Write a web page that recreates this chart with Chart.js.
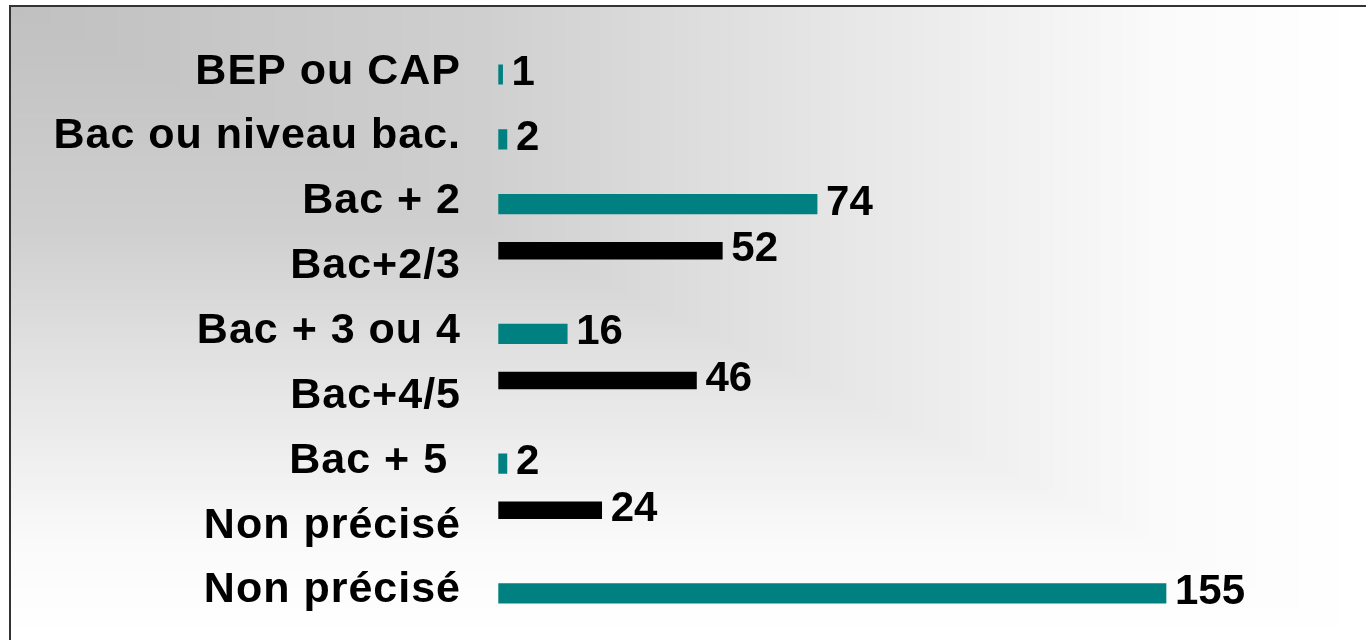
<!DOCTYPE html>
<html>
<head>
<meta charset="utf-8">
<script src="https://cdn.jsdelivr.net/npm/chart.js@4.4.1/dist/chart.umd.min.js"></script>
<style>
    html, body { margin: 0; padding: 0; background: #ffffff; }
    #wrap { width: 1366px; height: 640px; position: relative; }
</style>
</head>
<body>
<div id="wrap"><canvas id="levels-chart"></canvas></div>
<script>
const categories = ['BEP ou CAP', 'Bac ou niveau bac.', 'Bac + 2', 'Bac+2/3', 'Bac + 3 ou 4', 'Bac+4/5', 'Bac + 5 ', 'Non précisé', 'Non précisé'];
const blackValues = [null, null, null, 52, null, 46, null, 24, null];
const tealValues = [1, 2, 74, null, 16, null, 2, null, 155];

const FONT = '"Liberation Sans", Arial, sans-serif';

// grey in the top-left corner fading to white, in rectangular bands like the slide
const shade = (t) => {
    const stops = [[0, 192], [0.35, 207], [0.6, 229], [0.85, 250], [1, 255]];
    for (let i = 1; i < stops.length; i++) {
        if (t <= stops[i][0]) {
            const [t0, v0] = stops[i - 1];
            const [t1, v1] = stops[i];
            const v = Math.round(v0 + (v1 - v0) * (t - t0) / (t1 - t0));
            return `rgb(${v},${v},${v})`;
        }
    }
    return '#ffffff';
};

const backgroundPlugin = {
    id: 'slideBackground',
    beforeDraw: (chart) => {
        const ctx = chart.ctx;
        const ox = 9, oy = 5;
        const w = chart.width - ox, h = chart.height - oy;
        ctx.save();
        ctx.fillStyle = '#ffffff';
        ctx.fillRect(0, 0, chart.width, chart.height);
        const steps = 200;
        for (let k = steps; k >= 1; k--) {
            const t = k / steps;
            ctx.fillStyle = shade(t);
            ctx.fillRect(ox, oy, w * t, h * t);
        }
        ctx.strokeStyle = '#333333';
        ctx.lineWidth = 2;
        ctx.beginPath();
        ctx.moveTo(ox + 1, chart.height);
        ctx.lineTo(ox + 1, oy + 1);
        ctx.lineTo(chart.width, oy + 1);
        ctx.stroke();
        ctx.restore();
        // category labels are drawn slightly spaced out
        ctx.letterSpacing = '1px';
    },
    beforeDatasetsDraw: (chart) => {
        chart.ctx.letterSpacing = '0px';
    }
};

const valueLabelPlugin = {
    id: 'valueLabels',
    afterDatasetsDraw: (chart) => {
        const ctx = chart.ctx;
        ctx.save();
        ctx.letterSpacing = '0px';
        ctx.font = `bold 42px ${FONT}`;
        ctx.fillStyle = '#000000';
        ctx.textAlign = 'left';
        ctx.textBaseline = 'middle';
        chart.data.datasets.forEach((ds, di) => {
            const meta = chart.getDatasetMeta(di);
            meta.data.forEach((bar, i) => {
                const v = ds.data[i];
                if (v === null || v === undefined) return;
                ctx.fillText(String(v), bar.x + 9, bar.y - 1);
            });
        });
        ctx.restore();
    }
};

const ctx = document.getElementById('levels-chart').getContext('2d');
const levelsChart = new Chart(ctx, {
    type: 'bar',
    data: {
        labels: categories,
        datasets: [
            {
                label: 'black',
                data: blackValues,
                backgroundColor: '#000000',
                barThickness: 17
            },
            {
                label: 'teal',
                data: tealValues,
                backgroundColor: '#008080',
                barThickness: 19.5
            }
        ]
    },
    options: {
        indexAxis: 'y',
        responsive: true,
        maintainAspectRatio: false,
        animation: false,
        devicePixelRatio: 1,
        layout: { padding: { top: 32.3, bottom: 24, left: 0, right: 92.3 } },
        plugins: {
            legend: { display: false },
            tooltip: { enabled: false }
        },
        scales: {
            x: {
                display: false,
                min: 0,
                max: 180
            },
            y: {
                grid: { display: false, drawTicks: false },
                border: { display: false },
                ticks: {
                    color: '#000000',
                    padding: 37.3,
                    labelOffset: 7,
                    font: { family: FONT, size: 43, weight: 'bold' }
                },
                afterFit: (scale) => {
                    scale.width = 498.3;
                    // the tick padding is only meant to push labels left, not to shrink the plot vertically
                    scale.paddingTop = 0;
                    scale.paddingBottom = 0;
                }
            }
        }
    },
    plugins: [backgroundPlugin, valueLabelPlugin]
});
</script>
</body>
</html>
